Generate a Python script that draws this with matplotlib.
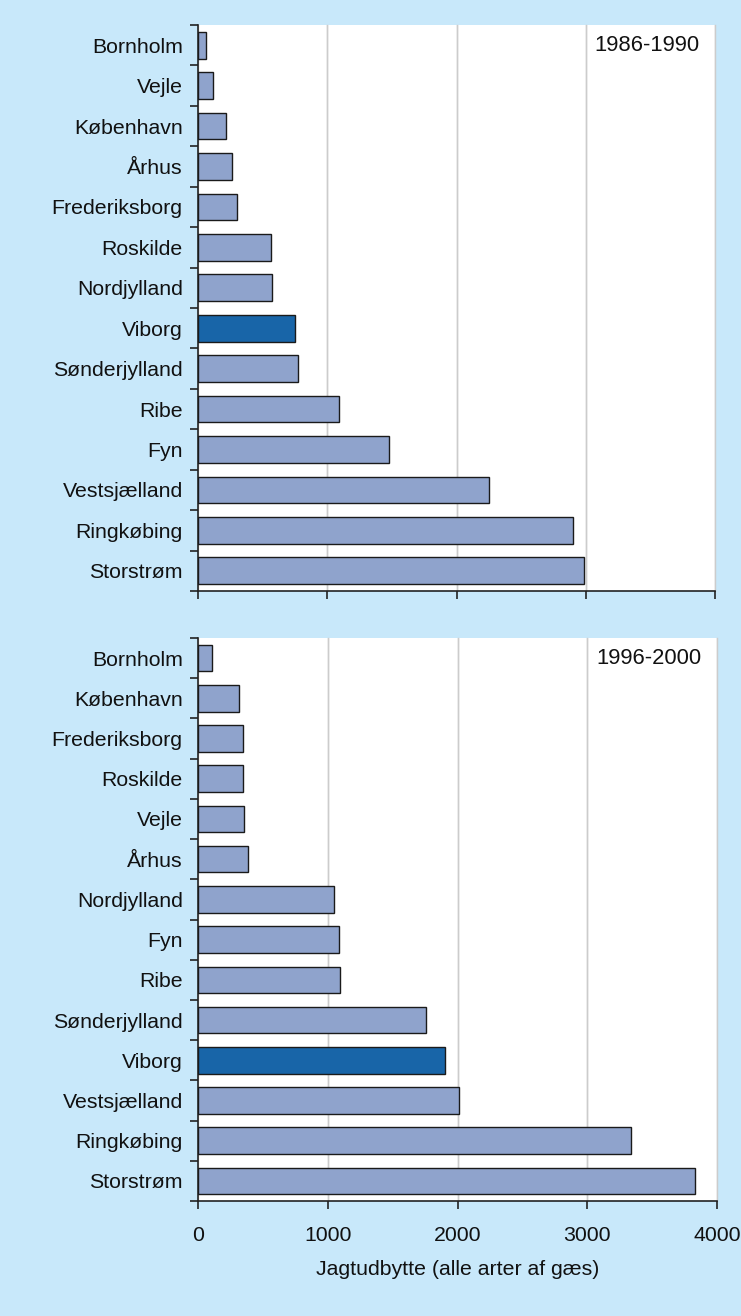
import matplotlib
matplotlib.use("Agg")
import matplotlib.pyplot as plt
import numpy as np

plt.rcParams['font.family'] = ['Liberation Sans', 'DejaVu Sans']

# Data
cats_1986 = ["Bornholm", "Vejle", "København", "Århus", "Frederiksborg", "Roskilde",
             "Nordjylland", "Viborg", "Sønderjylland", "Ribe", "Fyn", "Vestsjælland",
             "Ringkøbing", "Storstrøm"]
vals_1986 = [64, 113, 216, 263, 302, 564, 573, 752, 775, 1090, 1474, 2254, 2899, 2990]

cats_1996 = ["Bornholm", "København", "Frederiksborg", "Roskilde", "Vejle", "Århus",
             "Nordjylland", "Fyn", "Ribe", "Sønderjylland", "Viborg", "Vestsjælland",
             "Ringkøbing", "Storstrøm"]
vals_1996 = [110, 319, 346, 349, 352, 385, 1050, 1083, 1097, 1759, 1905, 2010, 3337, 3827]

periods = ["1986-1990", "1996-2000"]
highlight = "Viborg"
xticks = [0, 1000, 2000, 3000, 4000]
xlabel = "Jagtudbytte (alle arter af gæs)"

BG = "#c8e8fa"
BAR = "#8fa3cc"
HI = "#1865a8"
FS = 15.3

W, H = 741, 1316
fig = plt.figure(figsize=(W / 100, H / 100), dpi=100, facecolor=BG)

def px_axes(l, r, t, b):
    return fig.add_axes([l / W, 1 - b / H, (r - l) / W, (b - t) / H])

ax1 = px_axes(198, 715, 25, 591)
ax2 = px_axes(198, 717, 638, 1201)

for ax, cats, vals, per, show in [(ax1, cats_1986, vals_1986, periods[0], False),
                                  (ax2, cats_1996, vals_1996, periods[1], True)]:
    ax.set_facecolor("white")
    y = np.arange(len(cats))
    colors = [HI if c == highlight else BAR for c in cats]
    ax.barh(y, vals, height=0.66, color=colors, edgecolor="#1a1a1a", linewidth=1.0, zorder=3)
    ax.set_ylim(len(cats) - 0.5, -0.5)
    ax.set_xlim(0, 4000)
    ax.set_yticks(y)
    ax.set_yticklabels(cats, fontsize=FS, color="#111111")
    ax.tick_params(axis="y", length=0, pad=11)
    ax.set_yticks(np.arange(-0.5, len(cats), 1), minor=True)
    ax.tick_params(axis="y", which="minor", length=6, width=1.2, color="#222222")
    ax.set_xticks(xticks)
    ax.tick_params(axis="x", length=6, width=1.2, color="#222222", labelsize=FS,
                   labelcolor="#111111", pad=12)
    if not show:
        ax.set_xticklabels([])
    ax.grid(axis="x", color="#cccccc", linewidth=1.0, zorder=0)
    for xv in xticks[1:]:
        ax.axvline(xv, color="#cccccc", linewidth=1.0, zorder=0, clip_on=False)
    ax.spines["top"].set_visible(False)
    ax.spines["right"].set_visible(False)
    for s in ("left", "bottom"):
        ax.spines[s].set_color("#222222")
        ax.spines[s].set_linewidth(1.2)
    ax.text(0.97, 1 - 0.5 / len(cats), per, transform=ax.transAxes,
            ha="right", va="center", fontsize=FS + 0.5, color="#111111")

ax2.set_xlabel(xlabel, fontsize=FS, color="#111111", labelpad=11)

fig.savefig("out.png", dpi=100, facecolor=BG)
